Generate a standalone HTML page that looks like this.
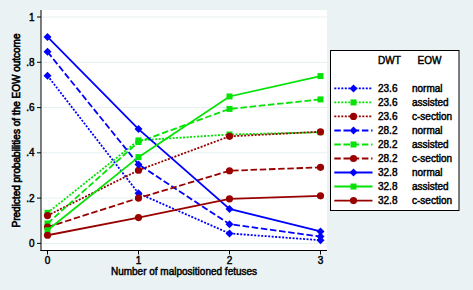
<!DOCTYPE html><html><head><meta charset="utf-8"><style>
html,body{margin:0;padding:0;background:#eaf2f3;}
svg{display:block;font-family:"Liberation Sans",sans-serif;}
text{font-size:10px;fill:#000;stroke:#000;stroke-width:0.45px;}
</style></head><body>
<svg width="473" height="290" viewBox="0 0 473 290">
<rect x="0" y="0" width="473" height="290" fill="#eaf2f3"/>
<rect x="41" y="10" width="286" height="240" fill="#ffffff"/>

<line x1='41.5' x2='327' y1='243.4' y2='243.4' stroke='#e6eff1' stroke-width='1'/>
<line x1='41.5' x2='327' y1='198.1' y2='198.1' stroke='#e6eff1' stroke-width='1'/>
<line x1='41.5' x2='327' y1='152.8' y2='152.8' stroke='#e6eff1' stroke-width='1'/>
<line x1='41.5' x2='327' y1='107.6' y2='107.6' stroke='#e6eff1' stroke-width='1'/>
<line x1='41.5' x2='327' y1='62.3' y2='62.3' stroke='#e6eff1' stroke-width='1'/>
<line x1='41.5' x2='327' y1='17.0' y2='17.0' stroke='#e6eff1' stroke-width='1'/>
<line x1='41' y1='10' x2='41' y2='251' stroke='#000' stroke-width='1'/>
<line x1='40.5' y1='250.5' x2='327' y2='250.5' stroke='#000' stroke-width='1'/>
<line x1='37' x2='41' y1='243.4' y2='243.4' stroke='#000' stroke-width='1'/>
<text x='34.6' y='247.0' text-anchor='end'>0</text>
<line x1='37' x2='41' y1='198.1' y2='198.1' stroke='#000' stroke-width='1'/>
<text x='34.6' y='201.7' text-anchor='end'>.2</text>
<line x1='37' x2='41' y1='152.8' y2='152.8' stroke='#000' stroke-width='1'/>
<text x='34.6' y='156.4' text-anchor='end'>.4</text>
<line x1='37' x2='41' y1='107.6' y2='107.6' stroke='#000' stroke-width='1'/>
<text x='34.6' y='111.2' text-anchor='end'>.6</text>
<line x1='37' x2='41' y1='62.3' y2='62.3' stroke='#000' stroke-width='1'/>
<text x='34.6' y='65.9' text-anchor='end'>.8</text>
<line x1='37' x2='41' y1='17.0' y2='17.0' stroke='#000' stroke-width='1'/>
<text x='34.6' y='20.6' text-anchor='end'>1</text>
<line x1='47.5' x2='47.5' y1='251' y2='254.5' stroke='#000' stroke-width='1'/>
<text x='47.5' y='263.5' text-anchor='middle'>0</text>
<line x1='138.5' x2='138.5' y1='251' y2='254.5' stroke='#000' stroke-width='1'/>
<text x='138.5' y='263.5' text-anchor='middle'>1</text>
<line x1='229.5' x2='229.5' y1='251' y2='254.5' stroke='#000' stroke-width='1'/>
<text x='229.5' y='263.5' text-anchor='middle'>2</text>
<line x1='320.5' x2='320.5' y1='251' y2='254.5' stroke='#000' stroke-width='1'/>
<text x='320.5' y='263.5' text-anchor='middle'>3</text>
<text x='184' y='275.1' text-anchor='middle'>Number of malpositioned fetuses</text>
<text transform='translate(20.2,130.5) rotate(-90)' text-anchor='middle' style='stroke-width:0.6px'>Predicted probabilities of the EOW outcome</text>
<g clip-path='url(#pc)'>
<polyline points='47.5,75.64 138.5,193.37 229.5,233.44 320.5,240.23' fill='none' stroke='#0000ff' stroke-width='1.8' stroke-dasharray='2 1.5'/>
<path d='M47.5 71.63759999999999L51.5 75.63759999999999L47.5 79.63759999999999L43.5 75.63759999999999Z' fill='#0000ff'/>
<path d='M138.5 189.3656L142.5 193.3656L138.5 197.3656L134.5 193.3656Z' fill='#0000ff'/>
<path d='M229.5 229.4384L233.5 233.4384L229.5 237.4384L225.5 233.4384Z' fill='#0000ff'/>
<path d='M320.5 236.2304L324.5 240.2304L320.5 244.2304L316.5 240.2304Z' fill='#0000ff'/>
<polyline points='47.5,212.84 138.5,140.39 229.5,134.50 320.5,132.24' fill='none' stroke='#05e205' stroke-width='1.8' stroke-dasharray='2 1.5'/>
<rect x='44.5' y='209.836' width='6.0' height='6.0' fill='#05e205'/>
<rect x='135.5' y='137.388' width='6.0' height='6.0' fill='#05e205'/>
<rect x='226.5' y='131.5016' width='6.0' height='6.0' fill='#05e205'/>
<rect x='317.5' y='129.2376' width='6.0' height='6.0' fill='#05e205'/>
<polyline points='47.5,215.55 138.5,170.27 229.5,136.31 320.5,131.78' fill='none' stroke='#990000' stroke-width='1.8' stroke-dasharray='2 1.5'/>
<circle cx='47.5' cy='215.5528' r='3.6' fill='#990000'/>
<circle cx='138.5' cy='170.27280000000002' r='3.6' fill='#990000'/>
<circle cx='229.5' cy='136.3128' r='3.6' fill='#990000'/>
<circle cx='320.5' cy='131.78480000000002' r='3.6' fill='#990000'/>
<polyline points='47.5,51.87 138.5,164.39 229.5,224.16 320.5,236.61' fill='none' stroke='#0000ff' stroke-width='1.8' stroke-dasharray='6.5 2.7'/>
<path d='M47.5 47.8656L51.5 51.8656L47.5 55.8656L43.5 51.8656Z' fill='#0000ff'/>
<path d='M138.5 160.3864L142.5 164.3864L138.5 168.3864L134.5 164.3864Z' fill='#0000ff'/>
<path d='M229.5 220.156L233.5 224.156L229.5 228.156L225.5 224.156Z' fill='#0000ff'/>
<path d='M320.5 232.608L324.5 236.608L320.5 240.608L316.5 236.608Z' fill='#0000ff'/>
<polyline points='47.5,223.48 138.5,141.97 229.5,108.92 320.5,99.41' fill='none' stroke='#05e205' stroke-width='1.8' stroke-dasharray='6.5 2.7'/>
<rect x='44.5' y='220.4768' width='6.0' height='6.0' fill='#05e205'/>
<rect x='135.5' y='138.9728' width='6.0' height='6.0' fill='#05e205'/>
<rect x='226.5' y='105.91840000000002' width='6.0' height='6.0' fill='#05e205'/>
<rect x='317.5' y='96.40960000000001' width='6.0' height='6.0' fill='#05e205'/>
<polyline points='47.5,227.10 138.5,198.12 229.5,170.73 320.5,167.33' fill='none' stroke='#990000' stroke-width='1.8' stroke-dasharray='6.5 2.7'/>
<circle cx='47.5' cy='227.0992' r='3.6' fill='#990000'/>
<circle cx='138.5' cy='198.12' r='3.6' fill='#990000'/>
<circle cx='229.5' cy='170.7256' r='3.6' fill='#990000'/>
<circle cx='320.5' cy='167.3296' r='3.6' fill='#990000'/>
<polyline points='47.5,36.92 138.5,129.07 229.5,208.99 320.5,231.40' fill='none' stroke='#0000ff' stroke-width='1.8' />
<path d='M47.5 32.92319999999998L51.5 36.92319999999998L47.5 40.92319999999998L43.5 36.92319999999998Z' fill='#0000ff'/>
<path d='M138.5 125.06799999999998L142.5 129.06799999999998L138.5 133.06799999999998L134.5 129.06799999999998Z' fill='#0000ff'/>
<path d='M229.5 204.9872L233.5 208.9872L229.5 212.9872L225.5 208.9872Z' fill='#0000ff'/>
<path d='M320.5 227.4008L324.5 231.4008L320.5 235.4008L316.5 231.4008Z' fill='#0000ff'/>
<polyline points='47.5,230.27 138.5,157.14 229.5,96.47 320.5,76.09' fill='none' stroke='#05e205' stroke-width='1.8' />
<rect x='44.5' y='227.2688' width='6.0' height='6.0' fill='#05e205'/>
<rect x='135.5' y='154.14159999999998' width='6.0' height='6.0' fill='#05e205'/>
<rect x='226.5' y='93.4664' width='6.0' height='6.0' fill='#05e205'/>
<rect x='317.5' y='73.09040000000002' width='6.0' height='6.0' fill='#05e205'/>
<polyline points='47.5,235.25 138.5,217.59 229.5,198.80 320.5,195.86' fill='none' stroke='#990000' stroke-width='1.8' />
<circle cx='47.5' cy='235.24960000000002' r='3.6' fill='#990000'/>
<circle cx='138.5' cy='217.5904' r='3.6' fill='#990000'/>
<circle cx='229.5' cy='198.7992' r='3.6' fill='#990000'/>
<circle cx='320.5' cy='195.856' r='3.6' fill='#990000'/>
</g>
<rect x='330.5' y='50.5' width='128.5' height='160' fill='#fff' stroke='#000' stroke-width='1'/>
<text x='378' y='64'>DWT</text><text x='417.6' y='64'>EOW</text>
<line x1='334.3' x2='372.5' y1='88.4' y2='88.4' stroke='#0000ff' stroke-width='1.8' stroke-dasharray='2 1.5'/>
<path d='M353.5 84.4L357.5 88.4L353.5 92.4L349.5 88.4Z' fill='#0000ff'/>
<text x='378' y='92.0'>23.6</text><text x='412' y='92.0'>normal</text>
<line x1='334.3' x2='372.5' y1='102.4' y2='102.4' stroke='#05e205' stroke-width='1.8' stroke-dasharray='2 1.5'/>
<rect x='350.5' y='99.42' width='6.0' height='6.0' fill='#05e205'/>
<text x='378' y='106.0'>23.6</text><text x='412' y='106.0'>assisted</text>
<line x1='334.3' x2='372.5' y1='116.4' y2='116.4' stroke='#990000' stroke-width='1.8' stroke-dasharray='2 1.5'/>
<circle cx='353.5' cy='116.44' r='3.6' fill='#990000'/>
<text x='378' y='120.0'>23.6</text><text x='412' y='120.0'>c-section</text>
<line x1='334.3' x2='372.5' y1='130.5' y2='130.5' stroke='#0000ff' stroke-width='1.8' stroke-dasharray='6.5 2.7'/>
<path d='M353.5 126.46000000000001L357.5 130.46L353.5 134.46L349.5 130.46Z' fill='#0000ff'/>
<text x='378' y='134.1'>28.2</text><text x='412' y='134.1'>normal</text>
<line x1='334.3' x2='372.5' y1='144.5' y2='144.5' stroke='#05e205' stroke-width='1.8' stroke-dasharray='6.5 2.7'/>
<rect x='350.5' y='141.48000000000002' width='6.0' height='6.0' fill='#05e205'/>
<text x='378' y='148.1'>28.2</text><text x='412' y='148.1'>assisted</text>
<line x1='334.3' x2='372.5' y1='158.5' y2='158.5' stroke='#990000' stroke-width='1.8' stroke-dasharray='6.5 2.7'/>
<circle cx='353.5' cy='158.5' r='3.6' fill='#990000'/>
<text x='378' y='162.1'>28.2</text><text x='412' y='162.1'>c-section</text>
<line x1='334.3' x2='372.5' y1='172.5' y2='172.5' stroke='#0000ff' stroke-width='1.8' />
<path d='M353.5 168.52L357.5 172.52L353.5 176.52L349.5 172.52Z' fill='#0000ff'/>
<text x='378' y='176.1'>32.8</text><text x='412' y='176.1'>normal</text>
<line x1='334.3' x2='372.5' y1='186.5' y2='186.5' stroke='#05e205' stroke-width='1.8' />
<rect x='350.5' y='183.54000000000002' width='6.0' height='6.0' fill='#05e205'/>
<text x='378' y='190.1'>32.8</text><text x='412' y='190.1'>assisted</text>
<line x1='334.3' x2='372.5' y1='200.6' y2='200.6' stroke='#990000' stroke-width='1.8' />
<circle cx='353.5' cy='200.56' r='3.6' fill='#990000'/>
<text x='378' y='204.2'>32.8</text><text x='412' y='204.2'>c-section</text>
<defs><clipPath id='pc'><rect x='41' y='10' width='286' height='240'/></clipPath></defs>
</svg></body></html>
